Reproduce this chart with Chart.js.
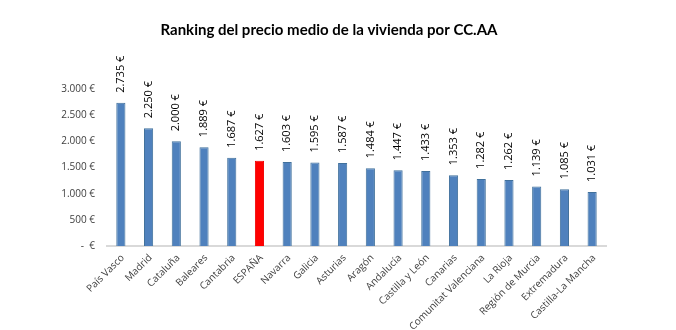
<!DOCTYPE html>
<html>
<head>
<meta charset="utf-8">
<script src="https://cdn.jsdelivr.net/npm/chart.js@4/dist/chart.umd.min.js"></script>
<style>
    html, body { margin: 0; padding: 0; background: #fff; }
    #wrap { width: 676px; height: 330px; position: relative; }
</style>
</head>
<body>
<div id="wrap"><canvas id="precioChart"></canvas></div>
<script>
const regiones = ['País Vasco', 'Madrid', 'Cataluña', 'Baleares', 'Cantabria', 'ESPAÑA', 'Navarra', 'Galicia', 'Asturias',
    'Aragón', 'Andalucía', 'Castilla y León', 'Canarias', 'Comunitat Valenciana', 'La Rioja', 'Región de Murcia',
    'Extremadura', 'Castilla-La Mancha'];
const precios = [2735, 2250, 2000, 1889, 1687, 1627, 1603, 1595, 1587, 1484, 1447, 1433, 1353, 1282, 1262, 1139, 1085, 1031];
const yTicks = [0, 500, 1000, 1500, 2000, 2500, 3000];

const euro = v => v === 0 ? '-  €' : v.toLocaleString('de-DE') + ' €';

// value labels written vertically above each bar
const barLabels = {
    id: 'barLabels',
    afterDatasetsDraw(chart) {
        const ctx = chart.ctx;
        const meta = chart.getDatasetMeta(0);
        ctx.save();
        ctx.font = '11px "Open Sans"';
        ctx.fillStyle = '#000';
        ctx.textAlign = 'left';
        ctx.textBaseline = 'middle';
        meta.data.forEach((bar, i) => {
            ctx.save();
            ctx.translate(bar.x, bar.y - 10);
            ctx.rotate(-Math.PI / 2);
            ctx.fillText(euro(precios[i]), 0, 0);
            ctx.restore();
        });
        ctx.restore();
    }
};

const ctx = document.getElementById('precioChart').getContext('2d');
new Chart(ctx, {
    type: 'bar',
    data: {
        labels: regiones,
        datasets: [{
            data: precios,
            backgroundColor: regiones.map(r => r === 'ESPAÑA' ? '#FF0000' : '#4F81BD'),
            borderColor: regiones.map(r => r === 'ESPAÑA' ? '#F00000' : '#41719C'),
            borderWidth: 1,
            categoryPercentage: 1,
            barPercentage: 0.33
        }]
    },
    options: {
        responsive: true,
        maintainAspectRatio: false,
        animation: false,
        layout: {
            padding: { left: 52, right: 70, top: 21, bottom: 0 }
        },
        plugins: {
            legend: { display: false },
            tooltip: { enabled: false },
            title: {
                display: true,
                text: 'Ranking del precio medio de la vivienda por CC.AA',
                color: '#000',
                font: { family: 'Lato', size: 15, weight: 'bold' },
                padding: { top: 0, bottom: 50 }
            }
        },
        scales: {
            y: {
                min: 0,
                max: 3000,
                afterBuildTicks: scale => { scale.ticks = yTicks.map(v => ({ value: v })); },
                afterFit: scale => { scale.width = 55; },
                grid: { display: false, drawTicks: false },
                border: { display: false },
                ticks: {
                    padding: 12,
                    color: '#404040',
                    font: { family: 'Open Sans', size: 10 },
                    callback: v => euro(v)
                }
            },
            x: {
                afterFit: scale => { scale.height = 84; },
                grid: { display: false, drawTicks: false },
                border: { display: true, color: '#D9D9D9', width: 2 },
                ticks: {
                    minRotation: 45,
                    maxRotation: 45,
                    padding: 6,
                    labelOffset: 2,
                    autoSkip: false,
                    color: '#404040',
                    font: { family: 'Open Sans', size: 10 }
                }
            }
        }
    },
    plugins: [barLabels]
});
</script>
</body>
</html>
